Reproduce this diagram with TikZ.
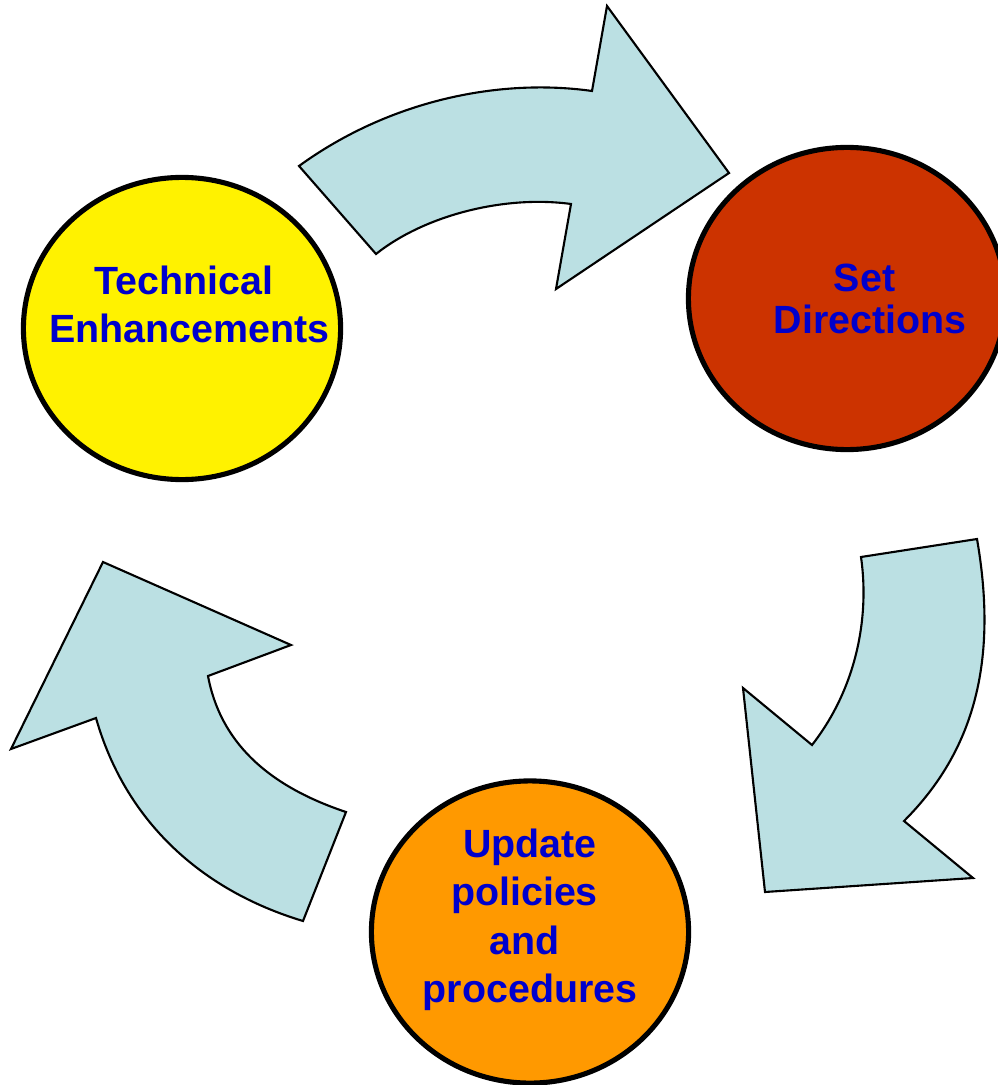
\documentclass[tikz,border=0pt]{standalone}
\usepackage{fontspec}
\setmainfont{Liberation Sans}
\usepackage{xcolor}
\usetikzlibrary{shapes.geometric}
\definecolor{arrowblue}{HTML}{BBE0E3}
\definecolor{txtblue}{HTML}{0000CC}
\definecolor{brickred}{HTML}{CC3300}
\definecolor{amber}{HTML}{FF9900}
\tikzset{bubble/.style={ellipse,draw=black,line width=1.45pt,inner sep=0pt,
  minimum width=3.17cm,minimum height=3.02cm},
 bigarrow/.style={draw=black,fill=arrowblue,line width=0.6pt,line join=miter},
 words/.style={text=txtblue,font=\bfseries\fontsize{11.2}{#1}\selectfont,
  align=center,inner sep=0pt,anchor=north},
 words/.default=13.7,
 }

\begin{document}
\begin{tikzpicture}[x=0.01cm,y=-0.01cm]
        \useasboundingbox (0,0) rectangle (998,1085);
        % the three curved arrows
        \draw[bigarrow] (299,166) .. controls (390,100) and (500,78) .. (592,91)
            -- (607,6) -- (729,173) -- (556,289) -- (571,204)
            .. controls (505,195) and (425,215) .. (376,254) -- cycle;
        \draw[bigarrow] (861,557) -- (977,539)
            .. controls (998,660) and (975,750) .. (904,821)
            -- (973,878) -- (765,892) -- (743,688) -- (812,745)
            .. controls (855,690) and (870,620) .. cycle;
        \draw[bigarrow] (303,921) -- (346,812)
            .. controls (265,785) and (220,740) .. (208,676)
            -- (291,645) -- (103,562) -- (11,749) -- (96,718)
            .. controls (125,820) and (200,890) .. cycle;
        % the circles
        \node[bubble, fill=yellow] (tech) at (182,328.5) {};
        \node[bubble, fill=brickred] (setdir) at (847,298.5) {};
        \node[bubble, fill=amber] (update) at (530,932) {};
        \node[words] (techtxt) at (189.5,265) {Technical\hphantom{\ }\\Enhancements};
        \node[words=12.1] (settxt) at (870,263) {Set\hphantom{\ }\\Directions};
        \node[words] (updatetxt) at (530,828.5) {Update\\policies\hphantom{\ }\\and\hphantom{\ }\\procedures};
    \end{tikzpicture}
\end{document}
